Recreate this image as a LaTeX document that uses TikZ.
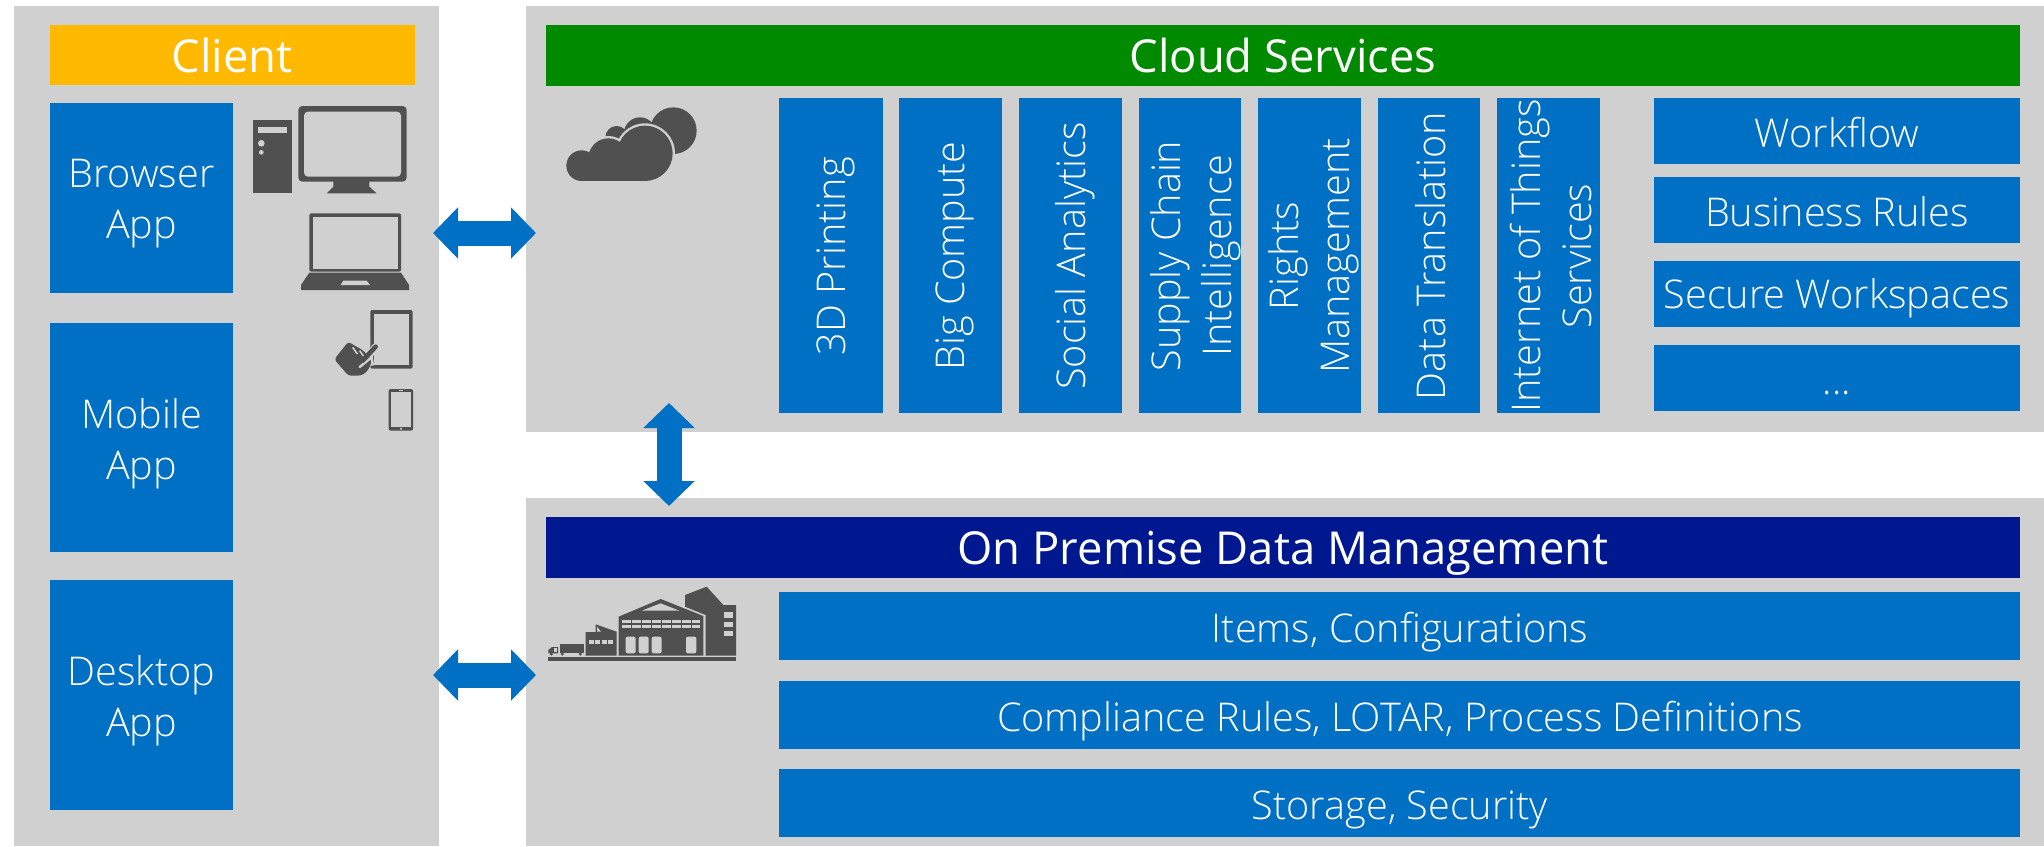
\documentclass[tikz,border=0pt]{standalone}
\usepackage{fontspec}
\setmainfont{Open Sans Light}
\newfontfamily\headfont{Open Sans}
\usetikzlibrary{arrows.meta}
\definecolor{panelgray}{HTML}{D0D0D0}
\definecolor{msblue}{HTML}{0070C5}
\definecolor{msyellow}{HTML}{FFB900}
\definecolor{msgreen}{HTML}{008A00}
\definecolor{msnavy}{HTML}{00188F}
\definecolor{icongray}{HTML}{505050}
\tikzset{
  x=0.5pt,y=-0.5pt,
  panel/.style={fill=panelgray,draw=none},
  head/.style={draw=none,text=white,inner sep=0pt,anchor=base,font=\headfont\fontsize{22.7}{28}\selectfont},
  lbl/.style={text=white,inner sep=0pt,align=center,font=\fontsize{19.8}{25.6}\selectfont},
  rowlbl/.style={lbl,anchor=base},
  vlbl/.style={lbl,rotate=90},
  bigarrow/.style={draw=msblue,line width=12.5pt,{Triangle[length=12.5pt,width=25pt]}-{Triangle[length=12.5pt,width=25pt]}},
  icon/.style={fill=icongray,draw=none},
  hole/.style={fill=panelgray,draw=none},
}
\begin{document}
\begin{tikzpicture}
\useasboundingbox (0,0) rectangle (2044,846);
% panels
\fill[panel] (14,6) rectangle (439,846);
\fill[panel] (526,6) rectangle (2044,432);
\fill[panel] (526,498) rectangle (2044,846);
% headers
\fill[msyellow] (50,25) rectangle (415,85);
\node[head] (client) at (232,72) {Client};
\fill[msgreen] (546,25) rectangle (2020,86);
\node[head] (cloud) at (1283,72) {Cloud Services};
\fill[msnavy] (546,517) rectangle (2020,578);
\node[head] (prem) at (1283,564) {On Premise Data Management};
% client boxes
\fill[msblue] (50,103) rectangle (233,293);
\node[lbl] (browser) at (141.5,204) {Browser\\App};
\fill[msblue] (50,323) rectangle (233,552);
\node[lbl] (mobile) at (141.5,444) {Mobile\\App};
\fill[msblue] (50,580) rectangle (233,810);
\node[lbl] (desktop) at (141.5,701) {Desktop\\App};
% vertical boxes
\foreach \a/\b/\c/\n/\t in {779/883/836/v1/{3D Printing},899/1002/955/v2/{Big Compute},1019/1122/1075/v3/{Social Analytics},1139/1241/1196/v4/{Supply Chain\\Intelligence},1258/1361/1314/v5/{Rights\\Management},1377.5/1480/1431/v6/{Data Translation},1496.5/1600/1551/v7/{Internet of Things\\Services}}{
  \fill[msblue] (\a,98) rectangle (\b,413);
  \node[vlbl] (\n) at (\c,256) {\t};
}
% right boxes
\foreach \a/\b/\y/\n/\t in {98/164/147/r1/Workflow,177/243/226/r2/Business Rules,261/327/308/r3/Secure Workspaces}{
  \fill[msblue] (1654,\a) rectangle (2020,\b);
  \node[rowlbl] (\n) at (1837,\y) {\t};
}
\fill[msblue] (1654,345) rectangle (2020,411);
\node[rowlbl] (r4) at (1837,394) {...};
% rows
\foreach \a/\b/\y/\n/\t in {592/660/642/p1/{Items, Configurations},681/749/731/p2/{Compliance Rules, LOTAR, Process Definitions},769/837/819/p3/{Storage, Security}}{
  \fill[msblue] (779,\a) rectangle (2020,\b);
  \node[rowlbl] (\n) at (1400,\y) {\t};
}
% arrows
\coordinate (a1l) at (433,233); \coordinate (a1r) at (536,233);
\coordinate (a2t) at (669,403); \coordinate (a2b) at (669,506);
\coordinate (a3l) at (433,675); \coordinate (a3r) at (536,675);
\draw[bigarrow] (a1l) -- (a1r);
\draw[bigarrow] (a2t) -- (a2b);
\draw[bigarrow] (a3l) -- (a3r);
% device icons
\begin{scope}[shift={(230,90)},scale=1/3]
  % tower
  \fill[icon] (70,90) rectangle (186,310);
  \fill[hole] (85,112) rectangle (172,128);
  \fill[hole] (94,160) circle[radius=10];
  \fill[hole] (94,187) circle[radius=7];
  % monitor
  \fill[icon,rounded corners=2pt] (205,48) rectangle (530,275);
  \fill[hole,rounded corners=2pt] (222,65) rectangle (513,260);
  \fill[icon] (310,270) -- (418,270) -- (418,290) -- (440,310) -- (290,310) -- (310,290) -- cycle;
  % laptop
  \fill[icon,rounded corners=1pt] (238,370) rectangle (513,545);
  \fill[hole] (248,380) rectangle (503,538);
  \fill[icon] (238,548) -- (513,548) -- (537,585) -- (537,600) -- (213,600) -- (213,585) -- cycle;
  \fill[hole] (340,572) -- (410,572) -- (420,585) -- (332,585) -- cycle;
  % tablet
  \fill[icon,rounded corners=1pt] (421,660) rectangle (548,836);
  \fill[hole] (432,673) rectangle (538,826);
  % hand
  \draw[panelgray,line width=3.6pt,line cap=round] (398,822) -- (437,770);
  \fill[hole] (405,830) -- (428,795) -- (432,826) -- cycle;
  \fill[icon,rounded corners=1.5pt] (313,808) -- (355,755) -- (372,766) -- (395,778) -- (412,795) -- (425,812) -- (420,830) -- (408,848) -- (392,857) -- (355,857) -- cycle;
  \draw[panelgray,line width=0.8pt] (368,772) -- (382,792);
  \draw[panelgray,line width=0.8pt] (389,782) -- (400,798);
  \draw[panelgray,line width=1.2pt,line cap=round] (389,831) -- (420,806);
  \draw[icongray,line width=2.3pt,line cap=round] (398,812) -- (437,770);
  % phone
  \fill[icon,rounded corners=1pt] (476,897) rectangle (549,1022);
  \fill[hole] (484,907) rectangle (543,1010);
  \fill[hole] (513,1016) circle[radius=3.5];
  \fill[hole] (506,900) rectangle (520,904);
\end{scope}
% cloud icon
\begin{scope}[shift={(530,90)},scale=1/3]
  \fill[icon] (430,122) circle[radius=70];
  \fill[icon] (330,130) circle[radius=48];
  \fill[icon] (260,142) circle[radius=34];
  \fill[panelgray] (155,227) circle[radius=53] (235,205) circle[radius=67] (345,190) circle[radius=90];
  \fill[icon] (155,227) circle[radius=46];
  \fill[icon] (235,205) circle[radius=60];
  \fill[icon] (345,190) circle[radius=83];
  \fill[icon] (155,200) rectangle (345,273);
\end{scope}
% factory icon
\begin{scope}[shift={(420,570)},scale=1/3]
  \fill[icon] (384,261) rectangle (948,273);
  % truck
  \fill[icon] (419,222) rectangle (491,250);
  \fill[icon] (385,240) -- (395,232) -- (395,231) -- (414,231) -- (414,250) -- (385,250) -- cycle;
  \fill[hole] (401,234) rectangle (410,246);
  \fill[icon] (394,252) circle[radius=5];
  \fill[icon] (427,252) circle[radius=5];
  \fill[icon] (481,252) circle[radius=5];
  % small building
  \fill[icon] (497,257) -- (497,186) -- (527,186) -- (527,163) -- (590,185) -- (590,257) -- cycle;
  \fill[hole] (531,170) -- (543,185) -- (531,185) -- cycle;
  \foreach \x in {507,526,545,564}{\fill[hole] (\x,209) rectangle ++(15,13);}
  % main hall
  \fill[icon] (596,257) -- (596,140) -- (722,87) -- (850,138) -- (850,257) -- cycle;
  \fill[hole] (665,122) -- (722,100) -- (778,122) -- cycle;
  \foreach \x in {607,637,667,697,727,757,787,815}{
    \fill[hole] (\x,150) rectangle ++(25,10);
    \fill[hole] (\x,165) rectangle ++(25,10);
  }
  \foreach \x in {617,656,695}{\fill[hole,rounded corners=1pt] (\x,200) rectangle ++(30,50);}
  \fill[hole,rounded corners=1pt] (798,200) rectangle (829,250);
  % tower
  \fill[icon] (795,75) -- (860,50) -- (910,105) -- (948,105) -- (948,257) -- (857,257) -- (857,135) -- (795,110) -- cycle;
  \fill[hole] (912,127) rectangle (939,143);
  \fill[hole] (912,155) rectangle (939,171);
  \fill[hole] (912,182) rectangle (939,198);
\end{scope}
\end{tikzpicture}
\end{document}
